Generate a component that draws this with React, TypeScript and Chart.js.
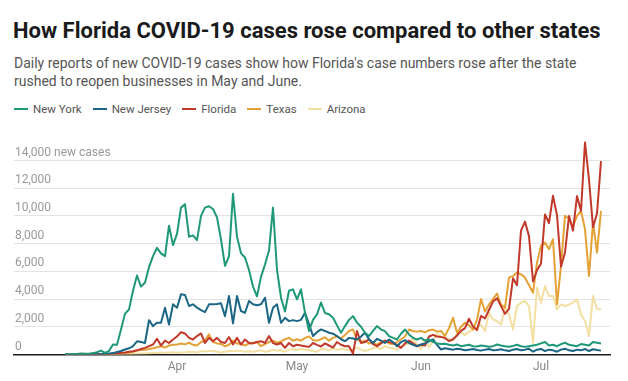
import React, { useEffect, useRef } from "react";
import { Chart, registerables } from "chart.js";

Chart.register(...registerables);

// Day index = days since Mar 1, 2020. First data point is Mar 4.
const START_DAY = 3;
const monthTickDays = [31, 61, 92, 122];
const monthLabels = ["Apr", "May", "Jun", "Jul"];
const yTopLabelValue = 14000;

// New York
const nyMar = [5, 20, 30, 40, 80, 50, 60, 100, 160, 280, 120, 250, 720, 700, 1800, 2950, 3250, 4600, 5700, 4900, 5200, 6300, 7100, 7700, 7300, 7100, 9300, 7900];
const nyApr = [8700, 10600, 10850, 8500, 8600, 8250, 10000, 10600, 10700, 10500, 9900, 8300, 6400, 7100, 11600, 8500, 7300, 7000, 6100, 4900, 4200, 5600, 6500, 7500, 10600, 6100, 4100, 3100, 4600, 4700];
const nyMay = [3980, 4700, 3000, 1700, 2500, 2900, 3750, 3000, 2900, 2650, 2100, 1570, 2050, 2500, 2770, 2300, 2000, 1570, 1330, 1700, 2050, 1800, 1690, 1330, 1200, 1085, 1500, 1800, 1450, 1200, 1085];
const nyJun = [1200, 1000, 1100, 900, 800, 750, 780, 700, 650, 720, 600, 650, 700, 600, 580, 650, 620, 560, 600, 720, 650, 600, 560, 620, 700, 600, 550, 600, 650, 700];
const nyJul = [800, 900, 650, 700, 600, 750, 850, 700, 650, 600, 750, 700, 650, 900, 850, 800];

// New Jersey
const njMar = [0, 1, 2, 4, 6, 5, 10, 15, 20, 30, 50, 70, 100, 180, 250, 360, 450, 600, 950, 900, 830, 2480, 2050, 2290, 2290, 3380, 2170, 3620];
const njApr = [3380, 4340, 4300, 3500, 3620, 3380, 3200, 3060, 3620, 3620, 3650, 3700, 2770, 4220, 2240, 4220, 3130, 3010, 3860, 3620, 3550, 3620, 4100, 2290, 3380, 3620, 2290, 2650, 2410, 2480];
const njMay = [2410, 2500, 3010, 2200, 1330, 1610, 1810, 1700, 1570, 1500, 1330, 1100, 960, 1200, 1150, 1085, 1300, 1570, 1100, 830, 1130, 1000, 830, 1085, 900, 600, 900, 1040, 830, 700, 600];
const njJun = [720, 800, 950, 1085, 700, 360, 450, 400, 350, 420, 380, 300, 350, 400, 330, 280, 350, 400, 300, 320, 380, 300, 250, 350, 400, 300, 350, 420, 200, 350];
const njJul = [400, 250, 350, 300, 200, 350, 420, 300, 250, 350, 300, 400, 250, 380, 320, 280];

// Florida
const flMar = [0, 0, 1, 2, 3, 4, 5, 10, 15, 20, 25, 40, 50, 80, 120, 150, 200, 240, 300, 400, 480, 600, 720, 1130, 650, 1000, 830, 1085];
const flApr = [1300, 1610, 1520, 1200, 1085, 1330, 1520, 830, 1200, 960, 1200, 900, 830, 1260, 720, 1200, 720, 1085, 830, 800, 900, 960, 830, 1330, 830, 720, 830, 480, 830, 600];
const flMay = [700, 650, 600, 550, 830, 700, 580, 800, 650, 500, 900, 700, 600, 600, 70, 1690, 830, 900, 1085, 750, 600, 800, 1000, 900, 830, 700, 480, 800, 1000, 800, 600];
const flJun = [700, 650, 1300, 1420, 1300, 1270, 1180, 970, 1100, 1370, 1700, 1900, 2580, 2020, 1760, 2780, 2610, 3210, 3820, 4050, 3490, 2930, 3290, 5510, 5000, 8940, 9590, 8530, 5270, 6090];
const flJul = [6560, 10110, 9490, 11460, 10060, 6340, 7360, 9990, 8940, 11430, 10360, 15300, 12620, 9190, 10180, 13960];

// Texas
const txMar = [0, 0, 0, 1, 2, 3, 5, 8, 10, 15, 20, 30, 40, 50, 80, 110, 150, 200, 280, 330, 350, 400, 450, 520, 600, 500, 650, 700];
const txApr = [720, 800, 730, 850, 700, 650, 900, 1000, 1450, 900, 800, 750, 600, 700, 1000, 800, 750, 650, 800, 850, 900, 600, 750, 900, 1000, 850, 950, 1100, 1200, 1000];
const txMay = [1100, 1000, 1200, 1300, 1050, 1000, 1100, 1250, 1000, 1200, 1300, 1150, 1400, 1700, 1800, 1100, 900, 1000, 800, 850, 700, 900, 1000, 800, 750, 900, 1100, 1300, 1800, 1700, 1650];
const txJun = [1700, 1600, 1750, 1800, 1650, 1700, 1330, 1900, 2650, 1570, 2000, 2290, 2100, 1810, 2500, 4000, 3100, 3600, 4000, 4400, 3600, 3380, 5550, 5670, 5910, 5790, 5550, 5000, 4460, 6630];
const txJul = [7840, 8080, 7600, 8320, 3620, 6390, 10010, 9800, 9240, 10010, 10370, 9040, 5670, 9530, 7360, 10370];

// Arizona
const azMar = [0, 0, 0, 0, 0, 1, 2, 3, 3, 5, 8, 10, 15, 20, 25, 30, 40, 50, 60, 70, 80, 90, 100, 110, 120, 130, 150, 170];
const azApr = [120, 150, 170, 200, 180, 150, 250, 220, 260, 250, 200, 150, 200, 250, 230, 280, 250, 200, 240, 200, 260, 300, 200, 250, 330, 290, 310, 200, 350, 400];
const azMay = [330, 400, 350, 300, 250, 200, 400, 380, 300, 450, 350, 400, 380, 300, 350, 500, 350, 250, 350, 450, 500, 400, 600, 500, 450, 350, 600, 700, 800, 1100, 700];
const azJun = [400, 1100, 500, 1000, 1500, 1300, 1200, 1100, 1000, 1450, 1600, 1400, 1650, 1800, 2000, 2170, 1690, 3010, 2530, 2400, 2170, 3380, 2890, 1810, 3500, 3740, 3860, 3500, 850, 4820];
const azJul = [3740, 4940, 4220, 4220, 3260, 3620, 3500, 3600, 3740, 3980, 2890, 2410, 1330, 4220, 3260, 3260];

const seriesNames = ["New York", "New Jersey", "Florida", "Texas", "Arizona"];
const seriesColors = ["#1f9878", "#1b6685", "#c0392b", "#e3a136", "#f4dfa2"];
const seriesValues = [
  [...nyMar, ...nyApr, ...nyMay, ...nyJun, ...nyJul],
  [...njMar, ...njApr, ...njMay, ...njJun, ...njJul],
  [...flMar, ...flApr, ...flMay, ...flJun, ...flJul],
  [...txMar, ...txApr, ...txMay, ...txJun, ...txJul],
  [...azMar, ...azApr, ...azMay, ...azJun, ...azJul],
];

const FONT = "Roboto, 'Noto Sans', sans-serif";

function ChartCanvas() {
  const ref = useRef<HTMLCanvasElement | null>(null);
  useEffect(() => {
    if (!ref.current) return;
    const datasets = seriesNames.map((name, s) => ({
      label: name,
      data: seriesValues[s].map((v, i) => ({ x: START_DAY + i, y: v })),
      borderColor: seriesColors[s],
      backgroundColor: seriesColors[s],
      borderWidth: 2,
      pointRadius: 0,
      tension: 0,
      fill: false,
      borderJoinStyle: "round" as const,
    }));
    const chart = new Chart(ref.current, {
      type: "line",
      data: { datasets },
      options: {
        animation: false,
        responsive: false,
        maintainAspectRatio: false,
        layout: { padding: { left: 14, right: 18, top: 12.8, bottom: 0 } },
        plugins: { legend: { display: false }, tooltip: { enabled: false } },
        scales: {
          x: {
            type: "linear",
            min: -9.75,
            max: 139.25,
            grid: { display: false, drawTicks: false },
            border: { display: true, color: "#1a1a1a", width: 1.5 },
            ticks: {
              color: "#888",
              font: { family: FONT, size: 12 },
              padding: 5,
              maxRotation: 0,
              autoSkip: false,
              callback: (v: any) => {
                const i = monthTickDays.indexOf(Number(v));
                return i >= 0 ? monthLabels[i] : "";
              },
            },
            afterBuildTicks: (s: any) => {
              s.ticks = monthTickDays.map((v) => ({ value: v }));
            },
            afterFit: (s: any) => {
              s.height = 26.5;
            },
          },
          y: {
            min: 0,
            max: 16000,
            ticks: {
              stepSize: 2000,
              mirror: true,
              padding: 1,
              labelOffset: -8,
              color: "#9a9a9a",
              font: { family: FONT, size: 12 },
              callback: (v: any) =>
                Number(v) === yTopLabelValue ? "14,000 new cases" : Number(v).toLocaleString("en-US"),
            },
            afterBuildTicks: (s: any) => {
              s.ticks = s.ticks.filter((t: any) => t.value <= yTopLabelValue);
            },
            afterFit: (s: any) => {
              s.width = 0;
            },
            grid: {
              drawTicks: false,
              lineWidth: 1,
              color: (ctx: any) => (ctx.tick && ctx.tick.value === 0 ? "rgba(0,0,0,0)" : "#e3e3e3"),
            },
            border: { display: false },
          },
        },
      },
    });
    return () => chart.destroy();
  }, []);
  return (
    <canvas
      ref={ref}
      width={628}
      height={261}
      style={{ position: "absolute", left: 0, top: 120, width: 628, height: 261 }}
    />
  );
}

export default function App() {
  return (
    <div
      style={{
        position: "fixed",
        left: 0,
        top: 0,
        width: 628,
        height: 381,
        background: "#fff",
        fontFamily: FONT,
        overflow: "hidden",
      }}
    >
      <div
        style={{
          position: "absolute",
          left: 13,
          top: 18,
          fontSize: 22,
          fontWeight: 700,
          lineHeight: "26px",
          color: "#1a1a1a",
          whiteSpace: "nowrap",
        }}
      >
        How Florida COVID-19 cases rose compared to other states
      </div>
      <div
        style={{
          position: "absolute",
          left: 14,
          top: 53.5,
          fontSize: 14,
          lineHeight: "18px",
          color: "#555",
          whiteSpace: "nowrap",
        }}
      >
        Daily reports of new COVID-19 cases show how Florida's case numbers rose after the state
        <br />
        rushed to reopen businesses in May and June.
      </div>
      <div
        style={{
          position: "absolute",
          left: 14,
          top: 101,
          display: "flex",
          alignItems: "center",
          fontSize: 11.5,
          lineHeight: "16px",
          color: "#555",
          whiteSpace: "nowrap",
        }}
      >
        {seriesNames.map((name, i) => (
          <div key={name} style={{ display: "flex", alignItems: "center", marginRight: 11 }}>
            <span
              style={{ display: "inline-block", width: 14, height: 2, background: seriesColors[i], marginRight: 5 }}
            />
            <span>{name}</span>
          </div>
        ))}
      </div>
      <ChartCanvas />
    </div>
  );
}
